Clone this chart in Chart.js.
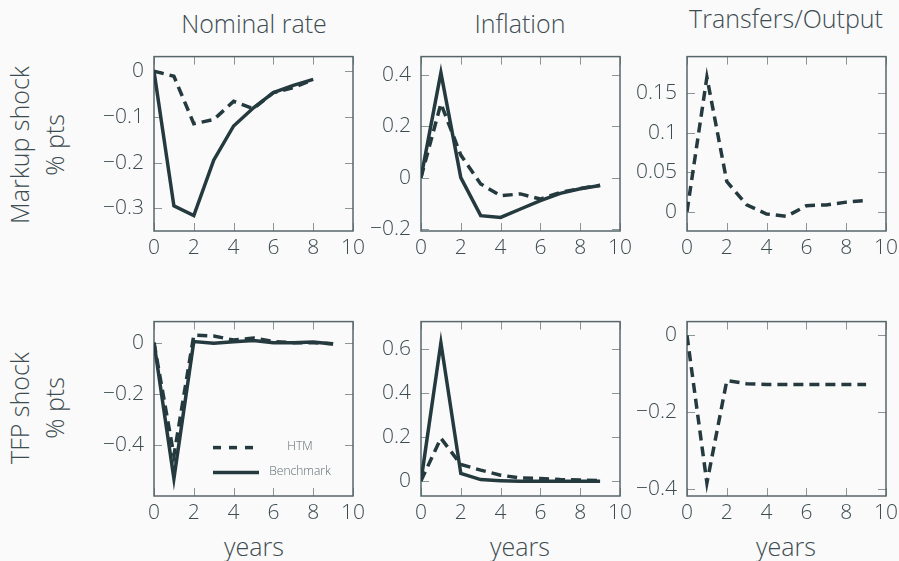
<!DOCTYPE html>
<html>
<head>
<meta charset="utf-8">
<script src="https://cdn.jsdelivr.net/npm/chart.js@4.4.1/dist/chart.umd.min.js"></script>
<style>
  body { margin: 0; background: #fafafa; width: 899px; height: 561px; overflow: hidden; position: relative;
         font-family: 'Open Sans', sans-serif; font-weight: 300; color: #3d4c51; }
  .pan { position: absolute; }
  .ttl { position: absolute; width: 240px; text-align: center; font-size: 25px; line-height: 25px; white-space: nowrap; }
  .row { position: absolute; width: 220px; height: 70px; text-align: center; font-size: 25px; line-height: 35px;
         transform: rotate(-90deg); white-space: nowrap; }
</style>
</head>
<body>

<div class="ttl" style="left:134px; top:11px">Nominal rate</div>
<div class="ttl" style="left:400px; top:11px">Inflation</div>
<div class="ttl" style="left:666px; top:6px">Transfers/Output</div>

<div class="row" style="left:-73px; top:110px">Markup shock<br>% pts</div>
<div class="row" style="left:-73px; top:373px">TFP shock<br>% pts</div>

<div class="ttl" style="left:134px; top:534px">years</div>
<div class="ttl" style="left:400px; top:534px">years</div>
<div class="ttl" style="left:666px; top:534px">years</div>

<div class="pan" style="left:74px; top:34px"><canvas id="c1" width="299" height="227"></canvas></div>
<div class="pan" style="left:341px; top:34px"><canvas id="c2" width="299" height="227"></canvas></div>
<div class="pan" style="left:607px; top:34px"><canvas id="c3" width="299" height="227"></canvas></div>
<div class="pan" style="left:74px; top:299px"><canvas id="c4" width="299" height="227"></canvas></div>
<div class="pan" style="left:341px; top:299px"><canvas id="c5" width="299" height="227"></canvas></div>
<div class="pan" style="left:607px; top:299px"><canvas id="c6" width="299" height="227"></canvas></div>

<script>
// anos depois do choque
var anos = [0, 1, 2, 3, 4, 5, 6, 7, 8, 9];
var xTicks = [0, 2, 4, 6, 8, 10];

// choque de markup
var markupJuroBench = [0, -0.295, -0.316, -0.195, -0.12, -0.08, -0.047, -0.031, -0.018];
var markupJuroHtm   = [0, -0.011, -0.115, -0.106, -0.066, -0.082, -0.047, -0.036, -0.018];
var markupInflBench = [0, 0.41, 0.0, -0.149, -0.156, -0.123, -0.09, -0.062, -0.044, -0.031];
var markupInflHtm   = [0, 0.289, 0.088, -0.025, -0.071, -0.064, -0.084, -0.058, -0.043, -0.03];
var markupTransfHtm = [0, 0.17, 0.038, 0.0085, -0.003, -0.006, 0.0075, 0.0085, 0.012, 0.014];

// choque de TFP
var tfpJuroBench = [0, -0.53, 0.004, -0.002, 0.003, 0.008, 0, 0, 0.002, -0.005];
var tfpJuroHtm   = [0, -0.44, 0.029, 0.026, 0.01, 0.018, 0.004, 0, 0, -0.004];
var tfpInflBench = [0, 0.63, 0.034, 0.006, 0.001, -0.002, -0.002, -0.002, -0.002, -0.002];
var tfpInflHtm   = [0, 0.195, 0.075, 0.049, 0.026, 0.013, 0.011, 0.006, 0.004, 0.002];
var tfpTransfHtm = [0, -0.385, -0.118, -0.126, -0.128, -0.128, -0.128, -0.128, -0.128, -0.128];

// ticks do eixo y de cada painel
var yTicks1 = [-0.3, -0.2, -0.1, 0];
var yTicks2 = [-0.2, 0, 0.2, 0.4];
var yTicks3 = [0, 0.05, 0.1, 0.15];
var yTicks4 = [-0.4, -0.2, 0];
var yTicks5 = [0, 0.2, 0.4, 0.6];
var yTicks6 = [-0.4, -0.2, 0];

var corLinha = '#253a3f';
var corTexto = '#3d4c51';
var fonteTick = { family: "'Open Sans', sans-serif", size: 21, weight: 300 };

function pontos(valores) {
    return valores.map(function (v, i) { return { x: anos[i], y: v }; });
}

// moldura + ticks para dentro nos quatro lados, e legenda opcional
var moldura = {
    id: 'moldura',
    beforeDatasetsDraw: function (chart) {
        var ctx = chart.ctx, a = chart.chartArea, x = chart.scales.x, y = chart.scales.y;
        ctx.save();
        ctx.strokeStyle = '#8b9699';
        ctx.lineWidth = 1;
        ctx.beginPath();
        x.ticks.forEach(function (t) {
            var px = Math.round(x.getPixelForValue(t.value)) + 0.5;
            ctx.moveTo(px, a.bottom); ctx.lineTo(px, a.bottom - 8);
            ctx.moveTo(px, a.top); ctx.lineTo(px, a.top + 8);
        });
        y.ticks.forEach(function (t) {
            var py = Math.round(y.getPixelForValue(t.value)) + 0.5;
            ctx.moveTo(a.left, py); ctx.lineTo(a.left + 8, py);
            ctx.moveTo(a.right, py); ctx.lineTo(a.right - 8, py);
        });
        ctx.stroke();
        ctx.strokeStyle = '#56666b';
        ctx.lineWidth = 1.5;
        ctx.strokeRect(a.left, a.top, a.right - a.left, a.bottom - a.top);
        ctx.restore();
    },
    afterDraw: function (chart, args, opts) {
        if (!opts.legenda) return;
        var ctx = chart.ctx, a = chart.chartArea;
        ctx.save();
        ctx.strokeStyle = corLinha;
        ctx.lineWidth = 3.5;
        ctx.setLineDash([8, 8]);
        ctx.beginPath();
        ctx.moveTo(a.left + 59, a.top + 126); ctx.lineTo(a.left + 99, a.top + 126);
        ctx.stroke();
        ctx.setLineDash([]);
        ctx.beginPath();
        ctx.moveTo(a.left + 59, a.top + 151); ctx.lineTo(a.left + 105, a.top + 151);
        ctx.stroke();
        ctx.fillStyle = '#5b6a6e';
        ctx.font = "300 12px 'Open Sans', sans-serif";
        ctx.textAlign = 'center';
        ctx.textBaseline = 'middle';
        ctx.fillText('HTM', a.left + 146, a.top + 125);
        ctx.fillText('Benchmark', a.left + 146, a.top + 150);
        ctx.restore();
    }
};

function formatar(v) {
    var s = String(Math.round(v * 1000) / 1000);
    return s.replace('-', '\u2212');
}

function plotarPainel(id, series, yMin, yMax, yTicks, legenda) {
    var datasets = series.map(function (s) {
        return {
            label: s.nome,
            data: pontos(s.valores),
            borderColor: corLinha,
            borderWidth: 3.5,
            borderDash: s.tracejado ? [10, 6] : [],
            borderJoinStyle: 'miter',
            borderCapStyle: 'butt',
            pointRadius: 0,
            tension: 0,
            fill: false
        };
    });

    return new Chart(document.getElementById(id), {
        type: 'line',
        data: { datasets: datasets },
        plugins: [moldura],
        options: {
            responsive: false,
            animation: false,
            layout: { padding: { top: 0, right: 20, bottom: 0, left: 0 } },
            plugins: {
                legend: { display: false },
                tooltip: { enabled: false },
                moldura: { legenda: legenda }
            },
            scales: {
                x: {
                    type: 'linear',
                    min: 0, max: 10,
                    grid: { display: false, drawTicks: false },
                    border: { display: false },
                    afterBuildTicks: function (scale) {
                        scale.ticks = xTicks.map(function (v) { return { value: v }; });
                    },
                    afterFit: function (scale) { scale.height = 30; },
                    ticks: { color: corTexto, font: fonteTick, padding: 4, maxRotation: 0, autoSkip: false,
                             callback: function (v) { return formatar(v); } }
                },
                y: {
                    min: yMin, max: yMax,
                    grid: { display: false, drawTicks: false },
                    border: { display: false },
                    afterBuildTicks: function (scale) {
                        scale.ticks = yTicks.map(function (v) { return { value: v }; });
                    },
                    afterFit: function (scale) { scale.width = 80; },
                    ticks: { color: corTexto, font: fonteTick, padding: 10, autoSkip: false,
                             callback: function (v) { return formatar(v); } }
                }
            }
        }
    });
}

plotarPainel('c1', [
    { nome: 'Benchmark', valores: markupJuroBench },
    { nome: 'HTM', valores: markupJuroHtm, tracejado: true }
], -0.35, 0.032, yTicks1, false);

plotarPainel('c2', [
    { nome: 'Benchmark', valores: markupInflBench },
    { nome: 'HTM', valores: markupInflHtm, tracejado: true }
], -0.209, 0.473, yTicks2, false);

plotarPainel('c3', [
    { nome: 'HTM', valores: markupTransfHtm, tracejado: true }
], -0.0245, 0.196, yTicks3, false);

plotarPainel('c4', [
    { nome: 'Benchmark', valores: tfpJuroBench },
    { nome: 'HTM', valores: tfpJuroHtm, tracejado: true }
], -0.598, 0.082, yTicks4, true);

plotarPainel('c5', [
    { nome: 'Benchmark', valores: tfpInflBench },
    { nome: 'HTM', valores: tfpInflHtm, tracejado: true }
], -0.069, 0.727, yTicks5, false);

plotarPainel('c6', [
    { nome: 'HTM', valores: tfpTransfHtm, tracejado: true }
], -0.419, 0.036, yTicks6, false);
</script>
</body>
</html>
